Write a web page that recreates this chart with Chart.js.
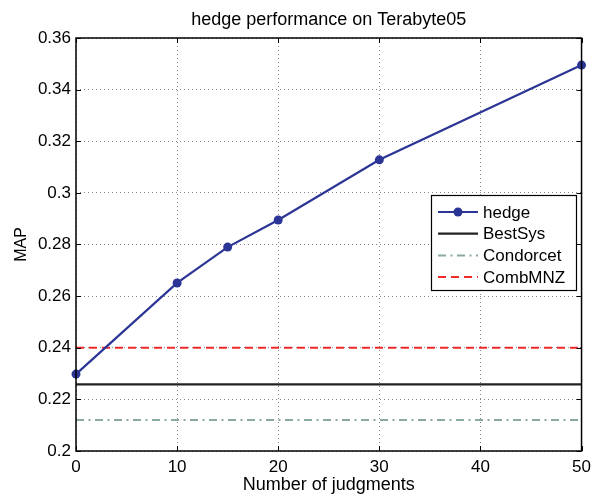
<!DOCTYPE html>
<html>
<head>
<meta charset="utf-8">
<script src="https://cdn.jsdelivr.net/npm/chart.js@4"></script>
<style>
  body { margin: 0; background: #fff; }
  #wrap { width: 597px; height: 496px; }
</style>
</head>
<body>
<div id="wrap"><canvas id="mapChart" width="597" height="496"></canvas></div>
<script>
// values
const judgments = [0, 10, 15, 20, 30, 50];
const hedgeMap = [0.2298, 0.2651, 0.2790, 0.2895, 0.3128, 0.3495];
const bestSys = 0.2258;
const condorcet = 0.2120;
const combMNZ = 0.2400;
const xTicks = [0, 10, 20, 30, 40, 50];
const yTicks = [0.2, 0.22, 0.24, 0.26, 0.28, 0.3, 0.32, 0.34, 0.36];

const xMin = xTicks[0], xMax = xTicks[xTicks.length - 1];
const flat = v => [{ x: xMin, y: v }, { x: xMax, y: v }];
const FONT = '"Liberation Sans", Arial, sans-serif';

// matlab-style box, inward ticks, title and the legend inside the plot
const matlabBox = {
    id: 'matlabBox',
    afterDraw(chart) {
        const c = chart.ctx;
        const a = chart.chartArea;
        const xs = chart.scales.x, ys = chart.scales.y;
        c.save();
        c.strokeStyle = '#000';
        c.lineWidth = 1.5;
        c.strokeRect(a.left, a.top, a.right - a.left, a.bottom - a.top);
        c.lineWidth = 1;
        xTicks.forEach(t => {
            const px = Math.round(xs.getPixelForValue(t)) + 0.5;
            c.beginPath();
            c.moveTo(px, a.bottom); c.lineTo(px, a.bottom - 5);
            c.moveTo(px, a.top); c.lineTo(px, a.top + 5);
            c.stroke();
        });
        yTicks.forEach(t => {
            const py = Math.round(ys.getPixelForValue(t)) + 0.5;
            c.beginPath();
            c.moveTo(a.left, py); c.lineTo(a.left + 5, py);
            c.moveTo(a.right, py); c.lineTo(a.right - 5, py);
            c.stroke();
        });

        // title
        c.fillStyle = '#000';
        c.font = '18px ' + FONT;
        c.textAlign = 'center';
        c.textBaseline = 'alphabetic';
        c.fillText('hedge performance on Terabyte05', (a.left + a.right) / 2, 25);

        // legend
        const lx = 431, ly = 195, lw = 145, lh = 95;
        c.fillStyle = '#fff';
        c.fillRect(lx, ly, lw, lh);
        c.strokeStyle = '#000';
        c.lineWidth = 1.2;
        c.strokeRect(lx + 0.5, ly + 0.5, lw, lh);
        c.font = '17px ' + FONT;
        c.textAlign = 'left';
        c.textBaseline = 'middle';
        chart.data.datasets.forEach((ds, i) => {
            const yy = ly + 17 + i * 21.7;
            c.strokeStyle = ds.borderColor;
            c.lineWidth = ds.borderWidth;
            c.setLineDash(ds.borderDash || []);
            c.beginPath();
            c.moveTo(lx + 7, yy); c.lineTo(lx + 47, yy);
            c.stroke();
            c.setLineDash([]);
            if (ds.pointRadius) {
                c.fillStyle = ds.borderColor;
                c.beginPath();
                c.arc(lx + 27, yy, 4.5, 0, Math.PI * 2);
                c.fill();
            }
            c.fillStyle = '#000';
            c.fillText(ds.label, lx + 52, yy + 1);
        });
        c.restore();
    }
};

const ctx = document.getElementById('mapChart').getContext('2d');
let mapChart = new Chart(ctx, {
    type: 'line',
    data: {
        datasets: [
            {
                label: 'hedge',
                data: judgments.map((j, i) => ({ x: j, y: hedgeMap[i] })),
                borderColor: '#2b3595',
                backgroundColor: '#2b3595',
                borderWidth: 2.2,
                pointRadius: 4.5,
                pointBackgroundColor: '#2b3595',
                pointBorderWidth: 0,
                clip: false
            },
            {
                label: 'BestSys',
                data: flat(bestSys),
                borderColor: '#222222',
                borderWidth: 2.2,
                pointRadius: 0
            },
            {
                label: 'Condorcet',
                data: flat(condorcet),
                borderColor: '#8aab9c',
                borderWidth: 2,
                borderDash: [8, 4.5, 2, 4.5],
                pointRadius: 0
            },
            {
                label: 'CombMNZ',
                data: flat(combMNZ),
                borderColor: '#ee2a2a',
                borderWidth: 2,
                borderDash: [8, 5],
                pointRadius: 0
            }
        ]
    },
    options: {
        responsive: false,
        animation: false,
        layout: { padding: { top: 38, right: 9, left: 0, bottom: 0 } },
        plugins: {
            legend: { display: false },
            title: { display: false },
            tooltip: { enabled: false }
        },
        scales: {
            x: {
                type: 'linear',
                min: xMin,
                max: xMax,
                afterBuildTicks: s => { s.ticks = xTicks.map(v => ({ value: v })); },
                afterFit: s => { s.height = 45; },
                grid: {
                    color: '#888',
                    drawTicks: false
                },
                border: { display: false, dash: [1, 3] },
                ticks: {
                    color: '#000',
                    padding: 6,
                    font: { family: FONT, size: 17 }
                },
                title: {
                    display: true,
                    text: 'Number of judgments',
                    color: '#000',
                    padding: { top: -2, bottom: 0 },
                    font: { family: FONT, size: 18 }
                }
            },
            y: {
                min: yTicks[0],
                max: yTicks[yTicks.length - 1],
                afterBuildTicks: s => { s.ticks = yTicks.map(v => ({ value: v })); },
                afterFit: s => { s.width = 76; },
                grid: {
                    color: '#888',
                    drawTicks: false
                },
                border: { display: false, dash: [1, 3] },
                ticks: {
                    color: '#000',
                    padding: 5,
                    font: { family: FONT, size: 17 },
                    callback: v => String(parseFloat(v.toFixed(2)))
                },
                title: {
                    display: true,
                    text: 'MAP',
                    color: '#000',
                    padding: { top: 12, bottom: 0 },
                    font: { family: FONT, size: 16 }
                }
            }
        }
    },
    plugins: [matlabBox]
});
</script>
</body>
</html>
